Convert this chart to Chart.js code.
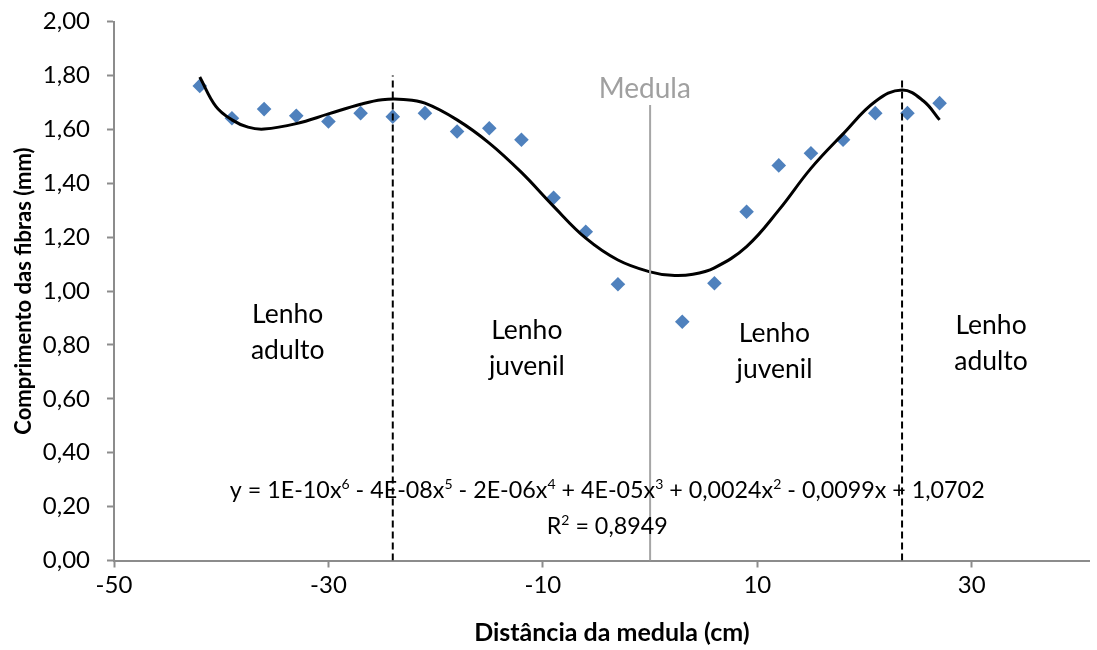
<!DOCTYPE html>
<html lang="pt">
<head>
<meta charset="utf-8">
<script src="https://cdn.jsdelivr.net/npm/chart.js@4.4.1/dist/chart.umd.min.js"></script>
<style>
  html, body { margin: 0; padding: 0; background: #fff; overflow: hidden; }
  canvas { display: block; }
</style>
</head>
<body>
<canvas id="grafico" width="1097" height="650"></canvas>
<script>
// Distância da medula (cm) e comprimento médio das fibras (mm)
const distancia = [-42, -39, -36, -33, -30, -27, -24, -21, -18, -15, -12, -9, -6, -3,
                   3, 6, 9, 12, 15, 18, 21, 24, 27];
const comprimento = [1.761, 1.641, 1.675, 1.650, 1.629, 1.660, 1.647, 1.660, 1.592, 1.604, 1.561, 1.346, 1.220, 1.025,
                     0.886, 1.029, 1.294, 1.466, 1.511, 1.561, 1.660, 1.660, 1.697];

// Linha de tendência polinomial (grau 6)
const tendenciaX = [-42, -40.5, -39, -37.5, -36, -33, -30, -27, -25, -23, -21, -18, -15, -12, -9, -6, -3,
                    0, 2, 4, 6, 9, 12, 15, 18, 21, 23.5, 25.5, 27];
const tendenciaY = [1.794, 1.685, 1.635, 1.608, 1.601, 1.621, 1.657, 1.693, 1.710, 1.711, 1.697, 1.635, 1.549, 1.440, 1.314, 1.196, 1.115,
                    1.071, 1.058, 1.062, 1.086, 1.165, 1.300, 1.455, 1.583, 1.703, 1.746, 1.705, 1.635];

// Limites entre lenho adulto e juvenil, e a medula
const limitesX = [-24, 23.5];
const limitesTopo = [1.80, 1.79];
const medulaX = 0;
const medulaTopo = 1.69;

// Marcas dos eixos
const xTicks = [-50, -30, -10, 10, 30];
const yTicks = [0, 0.2, 0.4, 0.6, 0.8, 1.0, 1.2, 1.4, 1.6, 1.8, 2.0];

// Textos
const zonas = [['Lenho', 'adulto'], ['Lenho', 'juvenil'], ['Lenho', 'juvenil'], ['Lenho', 'adulto']];
const equacao = 'y = 1E-10x⁶ - 4E-08x⁵ - 2E-06x⁴ + 4E-05x³ + 0,0024x² - 0,0099x + 1,0702';
const coefR2 = 'R² = 0,8949';
const tituloX = 'Distância da medula (cm)';
const tituloY = 'Comprimento das fibras (mm)';

const FONTE = 'Lato, "Open Sans", "DejaVu Sans", sans-serif';
Chart.defaults.font.family = FONTE;

const pontos = distancia.map((d, i) => ({ x: d, y: comprimento[i] }));
const curva = tendenciaX.map((d, i) => ({ x: d, y: tendenciaY[i] }));
const linhasLimite = limitesX.map((d, i) => ({
  type: 'scatter',
  data: [{ x: d, y: 0 }, { x: d, y: limitesTopo[i] }],
  showLine: true,
  borderColor: '#000',
  borderWidth: 2,
  borderDash: [7, 4],
  pointRadius: 0
}));

// Texto com expoentes sobrescritos
const SUP = { '⁰': '0', '¹': '1', '²': '2', '³': '3', '⁴': '4', '⁵': '5', '⁶': '6', '⁷': '7', '⁸': '8', '⁹': '9' };
function textoRico(ctx, texto, cx, baseline, tamanho, cor) {
  const runs = [];
  for (const ch of texto) {
    const sup = ch in SUP;
    const c = sup ? SUP[ch] : ch;
    if (runs.length && runs[runs.length - 1].sup === sup) runs[runs.length - 1].t += c;
    else runs.push({ t: c, sup });
  }
  const fNormal = tamanho + 'px ' + FONTE;
  const fSup = Math.round(tamanho * 0.62) + 'px ' + FONTE;
  let total = 0;
  for (const r of runs) { ctx.font = r.sup ? fSup : fNormal; r.w = ctx.measureText(r.t).width; total += r.w; }
  let x = cx - total / 2;
  ctx.fillStyle = cor;
  ctx.textAlign = 'left';
  ctx.textBaseline = 'alphabetic';
  for (const r of runs) {
    ctx.font = r.sup ? fSup : fNormal;
    ctx.fillText(r.t, x, r.sup ? baseline - tamanho * 0.36 : baseline);
    x += r.w;
  }
}

const anotacoes = {
  id: 'anotacoes',
  afterDatasetsDraw(chart, args, opts) {
    const { ctx, chartArea, scales: { x, y } } = chart;
    ctx.save();
    // Zonas do lenho
    ctx.font = opts.zonaFonte + 'px ' + FONTE;
    ctx.fillStyle = '#000';
    ctx.textAlign = 'center';
    ctx.textBaseline = 'alphabetic';
    zonas.forEach((linhas, i) => {
      const p = opts.zonaPos[i];
      const px = x.getPixelForValue(p.x);
      const py = y.getPixelForValue(p.y);
      linhas.forEach((t, j) => ctx.fillText(t, px, py + j * opts.entrelinha));
    });
    // Medula
    ctx.font = opts.medulaFonte + 'px ' + FONTE;
    ctx.fillStyle = '#a0a0a0';
    ctx.fillText('Medula', x.getPixelForValue(opts.medulaPos.x), y.getPixelForValue(opts.medulaPos.y));
    // Equação e R²
    const ex = x.getPixelForValue(opts.equacaoPos.x);
    textoRico(ctx, equacao, ex, y.getPixelForValue(opts.equacaoPos.y), opts.equacaoFonte, '#000');
    textoRico(ctx, coefR2, ex, y.getPixelForValue(opts.r2Pos.y), opts.equacaoFonte, '#000');
    // Título do eixo horizontal
    ctx.font = 'bold ' + opts.tituloFonte + 'px ' + FONTE;
    ctx.fillStyle = '#000';
    ctx.textAlign = 'center';
    ctx.textBaseline = 'middle';
    ctx.fillText(tituloX, (chartArea.left + chartArea.right) / 2 + opts.tituloDesvio, chart.height - opts.tituloMargem);
    ctx.restore();
  }
};

const corEixo = '#8c8c8c';

new Chart(document.getElementById('grafico'), {
  type: 'scatter',
  data: {
    datasets: [
      ...linhasLimite,
      {
        type: 'scatter',
        data: [{ x: medulaX, y: 0 }, { x: medulaX, y: medulaTopo }],
        showLine: true,
        borderColor: '#a6a6a6',
        borderWidth: 2,
        pointRadius: 0
      },
      {
        type: 'scatter',
        data: curva,
        showLine: true,
        borderColor: '#000',
        borderWidth: 3,
        tension: 0.4,
        pointRadius: 0
      },
      {
        type: 'scatter',
        data: pontos,
        pointStyle: 'rectRot',
        pointRadius: 7.3,
        pointBackgroundColor: '#4f81bd',
        pointBorderColor: '#4f81bd',
        pointBorderWidth: 0
      }
    ]
  },
  options: {
    responsive: false,
    animation: false,
    devicePixelRatio: 1,
    layout: { padding: { top: 21.5, right: 2, left: 0, bottom: 0 } },
    plugins: {
      legend: { display: false },
      tooltip: { enabled: false },
      anotacoes: {
        zonaFonte: 26.5,
        entrelinha: 36,
        zonaPos: [{ x: -33.8, y: 0.880 }, { x: -11.5, y: 0.821 }, { x: 11.6, y: 0.812 }, { x: 31.8, y: 0.841 }],
        medulaFonte: 28,
        medulaPos: { x: -0.5, y: 1.716 },
        equacaoFonte: 23.3,
        equacaoPos: { x: -4.0, y: 0.233 },
        r2Pos: { y: 0.100 },
        tituloFonte: 25,
        tituloDesvio: 10,
        tituloMargem: 17
      }
    },
    scales: {
      x: {
        type: 'linear',
        min: -50,
        max: 41,
        afterBuildTicks: s => { s.ticks = xTicks.map(v => ({ value: v })); },
        afterFit: s => { s.height = 89.5; },
        ticks: { font: { size: 24 }, color: '#000', padding: 3, callback: v => String(v) },
        grid: { drawOnChartArea: false, drawTicks: true, tickLength: 7, tickWidth: 2, tickColor: corEixo },
        border: { color: corEixo, width: 2 }
      },
      y: {
        type: 'linear',
        min: 0,
        max: 2,
        afterBuildTicks: s => { s.ticks = yTicks.map(v => ({ value: v })); },
        afterFit: s => { s.width = 114; s.paddingTop = 0; s.paddingBottom = 0; },
        ticks: { font: { size: 24 }, color: '#000', padding: 17, callback: v => v.toFixed(2).replace('.', ',') },
        grid: { drawOnChartArea: false, drawTicks: true, tickLength: 7, tickWidth: 2, tickColor: corEixo },
        border: { color: corEixo, width: 2 },
        title: { display: true, text: tituloY, font: { size: 22, weight: 'bold' }, color: '#000', padding: { top: 11, bottom: 0 } }
      }
    }
  },
  plugins: [anotacoes]
});
</script>
</body>
</html>
